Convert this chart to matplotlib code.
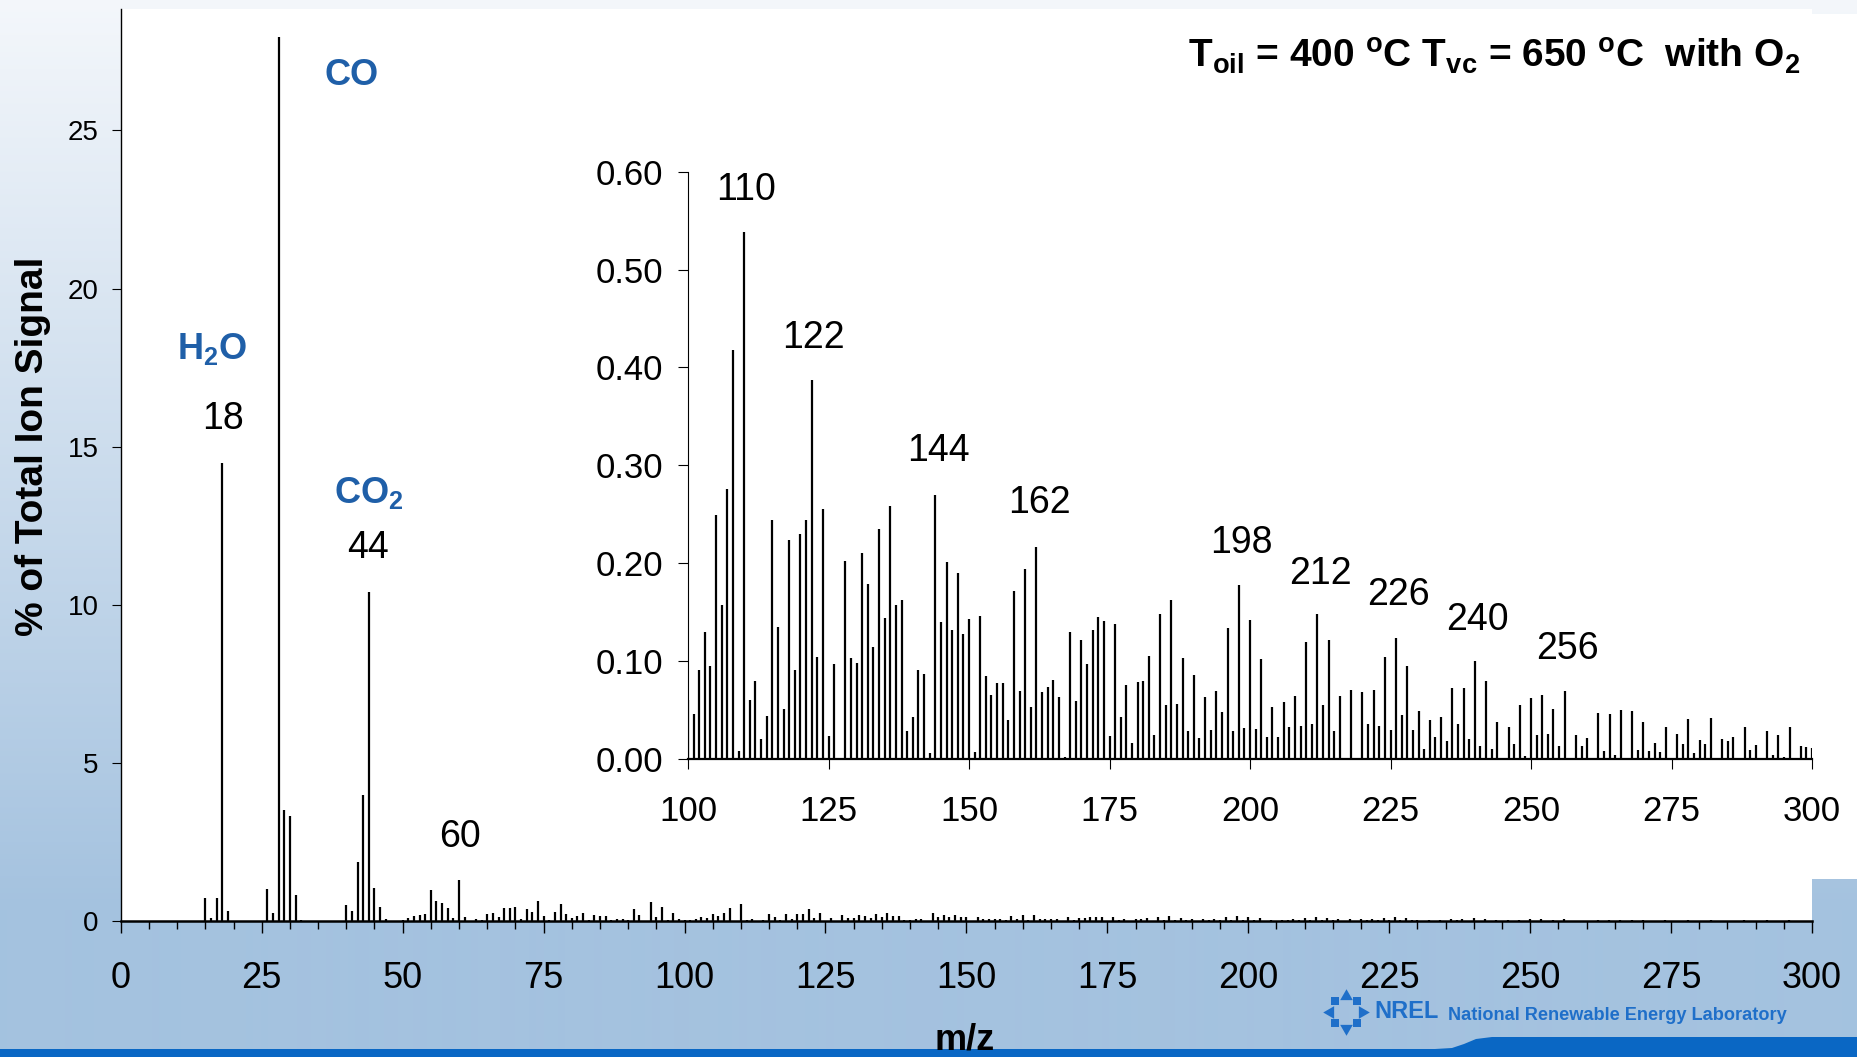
import numpy as np
import matplotlib
matplotlib.use("Agg")
import matplotlib.pyplot as plt
from matplotlib.patches import Rectangle, Polygon
from matplotlib import font_manager as fm

# ---------------- data ----------------
mz = np.arange(1, 301)

signal_001_050 = [0, 0, 0, 0, 0, 0, 0, 0, 0, 0,
                  0, 0, 0, 0.02, 0.74, 0.11, 0.74, 14.5, 0.32, 0.02,
                  0.01, 0, 0, 0, 0.02, 1.02, 0.26, 27.95, 3.52, 3.33,
                  0.85, 0.03, 0.01, 0, 0, 0, 0, 0, 0.02, 0.51,
                  0.32, 1.87, 4.0, 10.4, 1.05, 0.47, 0.08, 0.02, 0.02, 0.05]
signal_051_100 = [0.12, 0.18, 0.21, 0.23, 1.0, 0.66, 0.57, 0.42, 0.10, 1.31,
                  0.13, 0.02, 0.07, 0.03, 0.22, 0.25, 0.13, 0.43, 0.41, 0.46,
                  0.08, 0.39, 0.31, 0.64, 0.16, 0.03, 0.31, 0.54, 0.24, 0.10,
                  0.17, 0.28, 0.03, 0.21, 0.17, 0.17, 0.03, 0.07, 0.09, 0.03,
                  0.38, 0.21, 0.02, 0.60, 0.14, 0.44, 0.06, 0.25, 0.07, 0.060]
signal_101_150 = [0.046, 0.091, 0.130, 0.095, 0.249, 0.157, 0.276, 0.418, 0.008, 0.538,
                  0.060, 0.080, 0.020, 0.044, 0.244, 0.135, 0.051, 0.224, 0.091, 0.230,
                  0.244, 0.387, 0.104, 0.255, 0.024, 0.097, 0.0, 0.202, 0.103, 0.098,
                  0.210, 0.179, 0.114, 0.235, 0.144, 0.258, 0.157, 0.162, 0.029, 0.043,
                  0.091, 0.087, 0.006, 0.270, 0.140, 0.201, 0.132, 0.190, 0.128, 0.143]
signal_151_200 = [0.007, 0.146, 0.085, 0.065, 0.078, 0.078, 0.040, 0.172, 0.069, 0.194,
                  0.053, 0.217, 0.068, 0.074, 0.081, 0.063, 0.002, 0.130, 0.059, 0.122,
                  0.097, 0.132, 0.145, 0.141, 0.024, 0.138, 0.043, 0.076, 0.016, 0.079,
                  0.080, 0.105, 0.025, 0.148, 0.055, 0.162, 0.056, 0.103, 0.029, 0.086,
                  0.021, 0.063, 0.030, 0.069, 0.048, 0.134, 0.029, 0.178, 0.032, 0.142]
signal_201_250 = [0.031, 0.102, 0.022, 0.053, 0.022, 0.058, 0.033, 0.064, 0.034, 0.120,
                  0.036, 0.148, 0.055, 0.122, 0.029, 0.064, 0.0, 0.070, 0.0, 0.068,
                  0.036, 0.071, 0.034, 0.104, 0.030, 0.124, 0.045, 0.095, 0.030, 0.049,
                  0.010, 0.040, 0.022, 0.043, 0.018, 0.073, 0.036, 0.073, 0.020, 0.100,
                  0.013, 0.080, 0.010, 0.038, 0.0, 0.033, 0.015, 0.055, 0.003, 0.062]
signal_251_300 = [0.025, 0.065, 0.026, 0.051, 0.013, 0.069, 0.0, 0.025, 0.013, 0.021,
                  0.0, 0.047, 0.008, 0.046, 0.004, 0.050, 0.0, 0.049, 0.009, 0.038,
                  0.008, 0.016, 0.007, 0.033, 0.0, 0.026, 0.015, 0.041, 0.006, 0.019,
                  0.015, 0.042, 0.0, 0.020, 0.018, 0.022, 0.0, 0.033, 0.009, 0.014,
                  0.0, 0.029, 0.004, 0.025, 0.002, 0.033, 0.0, 0.013, 0.012, 0.011]

signal = np.array(signal_001_050 + signal_051_100 + signal_101_150 +
                  signal_151_200 + signal_201_250 + signal_251_300)

main_xticks = [0, 25, 50, 75, 100, 125, 150, 175, 200, 225, 250, 275, 300]
main_yticks = [0, 5, 10, 15, 20, 25]
inset_xticks = [100, 125, 150, 175, 200, 225, 250, 275, 300]
inset_yticks = [0.0, 0.1, 0.2, 0.3, 0.4, 0.5, 0.6]
inset_yticklabels = ["0.00", "0.10", "0.20", "0.30", "0.40", "0.50", "0.60"]

main_peaks = ["18", "44", "60"]
gas_labels = ["CO", r"$\mathbf{H_2O}$", r"$\mathbf{CO_2}$"]
inset_peaks = ["110", "122", "144", "162", "198", "212", "226", "240", "256"]

title = (r"T$_{\mathbf{oil}}$ = 400 $^{\mathbf{o}}$C T$_{\mathbf{vc}}$ = 650 "
         r"$^{\mathbf{o}}$C  with O$_{\mathbf{2}}$")
ylabel = "% of Total Ion Signal"
xlabel = "m/z"

# ---------------- layout ----------------
W, H = 1857, 1057
plt.rcParams["font.family"] = ["Liberation Sans", "DejaVu Sans"]
plt.rcParams["mathtext.fontset"] = "custom"
plt.rcParams["mathtext.rm"] = "Liberation Sans"
plt.rcParams["mathtext.bf"] = "Liberation Sans:bold"
plt.rcParams["mathtext.it"] = "Liberation Sans:italic"

def has_font(name):
    try:
        fm.findfont(fm.FontProperties(family=name), fallback_to_default=False)
        return True
    except Exception:
        return False

narrow = "Liberation Sans Narrow" if has_font("Liberation Sans Narrow") else "Liberation Sans"

BLUE = "#1f5fa8"
LOGO = "#1f6fc9"

fig = plt.figure(figsize=(W / 100, H / 100), dpi=100)
fig.patch.set_facecolor("#a4c2df")

# background (slide gradient, white plot panel, blue footer)
bg = fig.add_axes([0, 0, 1, 1], zorder=-10)
bg.set_xlim(0, W)
bg.set_ylim(H, 0)
bg.axis("off")
top_c = np.array([0xf4, 0xf7, 0xfb]) / 255.0
bot_c = np.array([0xa4, 0xc2, 0xdf]) / 255.0
rows = np.arange(H)
t = np.clip(rows / 910.0, 0, 1)[:, None]
grad = top_c[None, :] * (1 - t) + bot_c[None, :] * t
bg.imshow(grad[:, None, :], extent=(0, W, H, 0), aspect="auto", interpolation="bilinear")
bg.add_patch(Rectangle((1812, 14), W - 1812, 879 - 14, fc="white", ec="none"))
band = [(0, 1049), (1435, 1049), (1452, 1048), (1464, 1044), (1476, 1039),
        (1492, 1037), (W, 1037), (W, H), (0, H)]
bg.add_patch(Polygon(band, closed=True, fc="#0a67c4", ec="none"))

# NREL logo icon
cx, cy, r = 1346, 1012, 16
for ang in range(0, 360, 45):
    a = np.deg2rad(ang)
    px, py = cx + r * np.cos(a), cy - r * np.sin(a)
    if ang % 90 == 0:
        bg.scatter([px], [py], marker=(3, 0, ang - 90), s=110, color=LOGO, lw=0)
    else:
        bg.scatter([px], [py], marker=(4, 0, ang), s=65, color=LOGO, lw=0)

# main axes
L, R, B, T = 120.8, 1812.0, 921.4, 9.0
ax = fig.add_axes([L / W, 1 - B / H, (R - L) / W, (B - T) / H])
ax.set_facecolor("white")
ax.vlines(mz, 0, signal, colors="black", lw=1.6, capstyle="butt")
ax.set_xlim(0, 300)
ax.set_ylim(0, (B - T) / 31.64)
for s in ["top", "right"]:
    ax.spines[s].set_visible(False)
ax.spines["bottom"].set_linewidth(1.8)
ax.spines["left"].set_linewidth(1.0)
ax.set_xticks(main_xticks)
ax.set_xticks(np.arange(0, 301, 5), minor=True)
ax.set_yticks(main_yticks)
ax.tick_params(axis="x", which="major", length=8.6, width=1.0, direction="out",
               pad=20, labelsize=26)
ax.tick_params(axis="x", which="minor", length=5.8, width=1.0, direction="out")
ax.tick_params(axis="y", length=6.5, width=0.8, direction="out", pad=9.6, labelsize=20)

main_label_xy = [(18.2, 15.89), (43.9, 11.79), (60.2, 2.66)]
for s, (x, y) in zip(main_peaks, main_label_xy):
    ax.text(x, y, s, ha="center", va="center", fontsize=27)
gas_xy = [(41.0, 26.75), (16.2, 18.09), (43.9, 13.54)]
for s, (x, y) in zip(gas_labels, gas_xy):
    ax.text(x, y, s, ha="center", va="center", fontsize=26, fontweight="bold", color=BLUE)

# inset axes
iL, iR, iB, iT = 688.0, 1812.0, 759.0, 171.7
ax2 = fig.add_axes([iL / W, 1 - iB / H, (iR - iL) / W, (iB - iT) / H])
ax2.set_facecolor("none")
sel = mz >= 100
ax2.vlines(mz[sel], 0, signal[sel], colors="black", lw=1.6, capstyle="butt")
ax2.set_xlim(100, 300)
ax2.set_ylim(0, 0.6)
for s in ["top", "right"]:
    ax2.spines[s].set_visible(False)
ax2.spines["bottom"].set_linewidth(1.6)
ax2.spines["left"].set_linewidth(0.8)
ax2.set_xticks(inset_xticks)
ax2.set_yticks(inset_yticks)
ax2.set_yticklabels(inset_yticklabels)
ax2.tick_params(axis="x", length=7, width=0.8, direction="out", pad=19, labelsize=25)
ax2.tick_params(axis="y", length=7, width=0.8, direction="out", pad=11, labelsize=25)

inset_label_xy = [(110.3, 0.5815), (122.4, 0.4305), (144.5, 0.3145), (162.6, 0.2615),
                  (198.4, 0.2205), (212.5, 0.1895), (226.5, 0.1675), (240.4, 0.1425),
                  (256.4, 0.1125)]
for s, (x, y) in zip(inset_peaks, inset_label_xy):
    ax2.text(x, y, s, ha="center", va="center", fontsize=27, clip_on=False)

# titles / labels
fig.text(1800 / W, 1 - 56 / H, title, ha="right", va="center", fontsize=28,
         fontweight="bold")
fig.text(33 / W, 1 - 446 / H, ylabel, rotation=90, ha="center", va="center",
         fontsize=28, fontweight="bold")
fig.text(965 / W, 1 - 1049 / H, xlabel, ha="center", va="baseline", fontsize=26,
         fontweight="bold", zorder=20)

# NREL wordmark
fig.text(1374 / W, 1 - 1012 / H, "NREL", ha="left", va="center", fontsize=17,
         fontweight="bold", color=LOGO)
fig.text(1448 / W, 1 - 1016 / H, "National Renewable Energy Laboratory", ha="left",
         va="center", fontsize=15.5 if narrow != "Liberation Sans" else 13.1,
         fontweight="bold", color=LOGO, family=narrow)

fig.savefig("out.png", dpi=100, facecolor=fig.get_facecolor())
